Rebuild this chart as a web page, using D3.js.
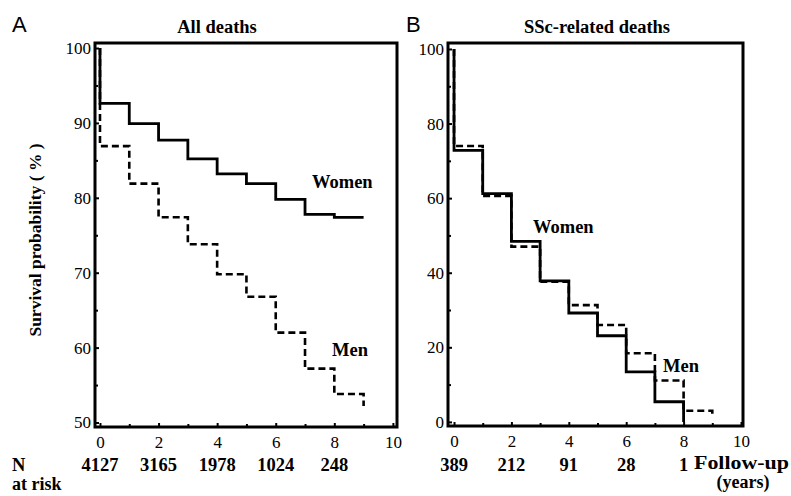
<!DOCTYPE html>
<html>
<head>
<meta charset="utf-8">
<title>Survival curves</title>
<script src="https://cdnjs.cloudflare.com/ajax/libs/d3/7.8.5/d3.min.js"></script>
<style>
  body { margin: 0; background: #fff; }
  svg text { fill: #000; font-family: "Liberation Serif", "DejaVu Serif", "Times New Roman", serif; }
  svg text.sans { font-family: "Liberation Sans", Arial, sans-serif; }
</style>
</head>
<body>
<script>
// follow-up years where the steps happen
var years = [0, 1, 2, 3, 4, 5, 6, 7, 8];

// panel A - all deaths (survival %)
var womenAll = [92.6, 89.9, 87.7, 85.2, 83.2, 81.9, 79.8, 77.8, 77.4];
var womenAllEnd = [9, 77.4];
var menAll = [86.9, 81.9, 77.4, 73.8, 69.8, 66.8, 62.0, 57.2, 53.8];
var menAllEnd = [9, 52.2];

// panel B - SSc-related deaths
var womenSSc = [72.8, 61.2, 48.4, 37.8, 29.2, 23.1, 13.4, 5.4, 0];
var womenSScEnd = [8, 0];
var menSSc = [74.0, 60.6, 47.0, 37.6, 31.3, 26.0, 18.4, 11.1, 3.0];
var menSScEnd = [9, 1.6];

// number at risk, under the even years
var riskYears = [0, 2, 4, 6, 8];
var riskAll = [4127, 3165, 1978, 1024, 248];
var riskSSc = [389, 212, 91, 28, 1];

var xTicks = [0, 2, 4, 6, 8, 10];
var xMinor = [1, 3, 5, 7, 9];

var width = 791, height = 496;

var svg = d3.select("body").append("svg")
    .attr("width", width)
    .attr("height", height);

// builds the points of a KM curve: starts at 100 at t=0
function puntos(vals, fin) {
  var p = [[0, 100]];
  vals.forEach(function(v, i) { p.push([years[i], v]); });
  p.push(fin);
  return p;
}

function limpiaEje(a) {
  a.attr("font-family", null);
  a.select(".domain").remove();
  a.selectAll("line").attr("stroke-width", 2);
  a.selectAll("text").attr("font-size", 17);
}

function panel(cfg) {
  var x = d3.scaleLinear().domain(cfg.xdom).range([cfg.left, cfg.right]);
  var y = d3.scaleLinear().domain(cfg.ydom).range([cfg.bottom, cfg.top]);

  var g = svg.append("g");

  // y axis, ticks pointing inward
  g.append("g")
    .attr("transform", "translate(" + cfg.left + ",0)")
    .call(d3.axisLeft(y).tickValues(cfg.yTicks).tickSize(-4).tickPadding(4))
    .call(limpiaEje);
  g.append("g")
    .attr("transform", "translate(" + cfg.left + ",0)")
    .call(d3.axisLeft(y).tickValues(cfg.yMinor).tickSize(-3).tickFormat(""))
    .call(limpiaEje);

  // x axis
  g.append("g")
    .attr("transform", "translate(0," + cfg.bottom + ")")
    .call(d3.axisBottom(x).tickValues(xTicks).tickSize(-4).tickPadding(9))
    .call(limpiaEje);
  g.append("g")
    .attr("transform", "translate(0," + cfg.bottom + ")")
    .call(d3.axisBottom(x).tickValues(xMinor).tickSize(-3).tickFormat(""))
    .call(limpiaEje);

  var linea = d3.line()
    .x(function(d) { return x(d[0]); })
    .y(function(d) { return y(d[1]); })
    .curve(d3.curveStepAfter);

  g.append("path")
    .attr("d", linea(puntos(cfg.men, cfg.menEnd)))
    .attr("fill", "none")
    .attr("stroke", "#000")
    .attr("stroke-width", 2.6)
    .attr("stroke-dasharray", "7,4");

  g.append("path")
    .attr("d", linea(puntos(cfg.women, cfg.womenEnd)))
    .attr("fill", "none")
    .attr("stroke", "#000")
    .attr("stroke-width", 2.8);

  // frame
  g.append("rect")
    .attr("x", cfg.left)
    .attr("y", cfg.top)
    .attr("width", cfg.right - cfg.left)
    .attr("height", cfg.bottom - cfg.top)
    .attr("fill", "none")
    .attr("stroke", "#000")
    .attr("stroke-width", 3);

  // title
  g.append("text")
    .attr("x", cfg.titleX)
    .attr("y", 33)
    .attr("text-anchor", "middle")
    .attr("font-weight", "bold")
    .attr("font-size", 18.5)
    .text(cfg.title);

  svg.append("text")
    .attr("class", "sans")
    .attr("x", cfg.letterX)
    .attr("y", 32)
    .attr("font-size", 22)
    .text(cfg.letter);

  // series labels
  cfg.labels.forEach(function(l) {
    g.append("text")
      .attr("x", l.x)
      .attr("y", l.y)
      .attr("font-weight", "bold")
      .attr("font-size", 18.5)
      .text(l.t);
  });

  // number at risk row
  g.selectAll("text.risk")
    .data(cfg.risk)
    .enter()
    .append("text")
    .attr("class", "risk")
    .attr("x", function(d, i) { return x(riskYears[i]); })
    .attr("y", 471)
    .attr("text-anchor", "middle")
    .attr("font-weight", "bold")
    .attr("font-size", 18.5)
    .text(function(d) { return d; });
}

panel({
  left: 95, right: 397, top: 43, bottom: 427,
  xdom: [-0.17, 10.14], ydom: [49.4, 100.67],
  yTicks: [50, 60, 70, 80, 90, 100], yMinor: [55, 65, 75, 85, 95],
  women: womenAll, womenEnd: womenAllEnd, men: menAll, menEnd: menAllEnd,
  risk: riskAll,
  title: "All deaths", titleX: 217, letter: "A", letterX: 12,
  labels: [{t: "Women", x: 312, y: 188}, {t: "Men", x: 332, y: 356}]
});

panel({
  left: 448, right: 743, top: 43, bottom: 426,
  xdom: [-0.21, 10.07], ydom: [-1.1, 101.6],
  yTicks: [0, 20, 40, 60, 80, 100], yMinor: [10, 30, 50, 70, 90],
  women: womenSSc, womenEnd: womenSScEnd, men: menSSc, menEnd: menSScEnd,
  risk: riskSSc,
  title: "SSc-related deaths", titleX: 597, letter: "B", letterX: 406,
  labels: [{t: "Women", x: 533, y: 233}, {t: "Men", x: 663, y: 372}]
});

// y label
svg.append("text")
  .attr("transform", "translate(41,240) rotate(-90)")
  .attr("text-anchor", "middle")
  .attr("font-weight", "bold")
  .attr("font-size", 17.5)
  .text("Survival probability ( % )");

// bottom left / right texts
svg.append("text").attr("x", 12).attr("y", 471)
  .attr("font-weight", "bold").attr("font-size", 18.5).text("N");
svg.append("text").attr("x", 12).attr("y", 490)
  .attr("font-weight", "bold").attr("font-size", 18).text("at risk");
svg.append("text").attr("x", 694).attr("y", 469)
  .attr("font-weight", "bold").attr("font-size", 18)
  .attr("textLength", 95).attr("lengthAdjust", "spacingAndGlyphs").text("Follow-up");
svg.append("text").attr("x", 743).attr("y", 488)
  .attr("text-anchor", "middle")
  .attr("font-weight", "bold").attr("font-size", 18).text("(years)");
</script>
</body>
</html>
